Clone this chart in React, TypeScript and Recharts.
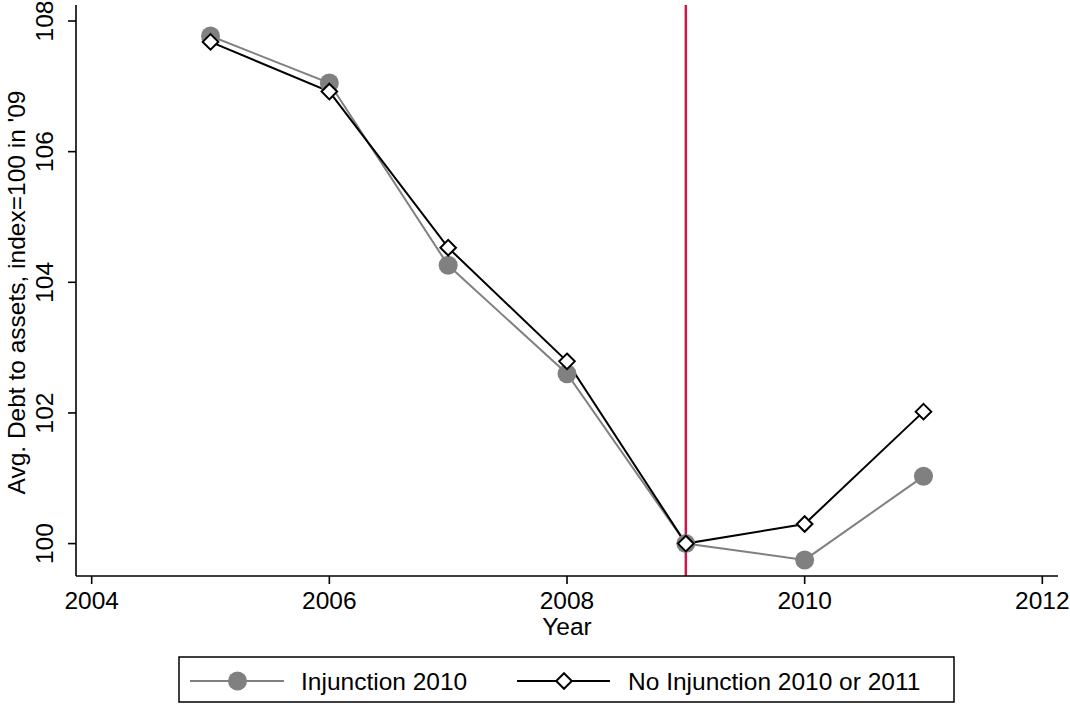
import React from "react";
import {
  LineChart,
  Line,
  XAxis,
  YAxis,
  ReferenceLine,
} from "recharts";

// index of avg. debt to assets, 2009 = 100
const years = [2005, 2006, 2007, 2008, 2009, 2010, 2011];
const injunction = [107.77, 107.05, 104.26, 102.6, 100, 99.75, 101.03];
const noInjunction = [107.68, 106.92, 104.53, 102.79, 100, 100.3, 102.02];

const seriesNames = ["Injunction 2010", "No Injunction 2010 or 2011"];
const xTicks = [2004, 2006, 2008, 2010, 2012];
const yTicks = [100, 102, 104, 106, 108];
const eventYear = 2009;

const data = years.map((year, i) => ({
  year,
  inj: injunction[i],
  noInj: noInjunction[i],
}));

const FONT = "'Liberation Sans', Arial, Helvetica, sans-serif";
const FS = 24.5;
const GRAY = "#808080";
const RED = "#c8194b";

const Diamond = (props: any) => {
  const { cx, cy, index } = props;
  const h = 7.8;
  return (
    <path
      key={`d-${index}`}
      d={`M${cx},${cy - h}L${cx + h},${cy}L${cx},${cy + h}L${cx - h},${cy}Z`}
      fill="#fff"
      stroke="#000"
      strokeWidth={2}
    />
  );
};

const YTick = (props: any) => {
  const { x, y, payload } = props;
  const bx = x - 13;
  return (
    <text
      x={bx}
      y={y}
      transform={`rotate(-90, ${bx}, ${y})`}
      textAnchor="middle"
      fontSize={FS}
      fontFamily={FONT}
      fill="#000"
    >
      {payload.value}
    </text>
  );
};

const YLabel = (props: any) => {
  const vb = props.viewBox || {};
  const cy = vb.y + vb.height / 2 + 2;
  const bx = 25;
  return (
    <text
      x={bx}
      y={cy}
      transform={`rotate(-90, ${bx}, ${cy})`}
      textAnchor="middle"
      fontSize={FS}
      fontFamily={FONT}
      fill="#000"
    >
      Avg. Debt to assets, index=100 in '09
    </text>
  );
};

const Legend = () => (
  <svg
    width={1070}
    height={704}
    style={{ position: "absolute", left: 0, top: 0, pointerEvents: "none" }}
  >
    <rect x={179} y={657} width={775} height={45} fill="none" stroke="#000" strokeWidth={1.5} />
    <line x1={190} x2={284} y1={681} y2={681} stroke={GRAY} strokeWidth={2} />
    <circle cx={237.5} cy={681} r={9.5} fill={GRAY} />
    <text x={301} y={689.5} fontSize={FS} fontFamily={FONT} fill="#000">
      {seriesNames[0]}
    </text>
    <line x1={517} x2={610} y1={681} y2={681} stroke="#000" strokeWidth={2} />
    <Diamond cx={564} cy={681} index={0} />
    <text x={628} y={689.5} fontSize={FS} fontFamily={FONT} fill="#000">
      {seriesNames[1]}
    </text>
  </svg>
);

export default function App() {
  const axisStyle = { stroke: "#000", strokeWidth: 1.6 };
  return (
    <div style={{ position: "absolute", left: 0, top: 0, width: 1070, height: 704, background: "#fff" }}>
      <LineChart
        width={1070}
        height={704}
        data={data}
        margin={{ top: 5, right: 12, left: 16, bottom: 58 }}
      >
        <XAxis
          dataKey="year"
          type="number"
          domain={[2003.868, 2012.132]}
          ticks={xTicks}
          interval={0}
          height={70}
          tickSize={8}
          tickMargin={8}
          axisLine={axisStyle}
          tickLine={axisStyle}
          tick={{ fill: "#000", fontSize: FS, fontFamily: FONT }}
          label={{
            value: "Year",
            position: "insideBottom",
            offset: 11,
            fill: "#000",
            fontSize: FS,
            fontFamily: FONT,
          }}
        />
        <XAxis
          xAxisId="top"
          orientation="top"
          dataKey="year"
          type="number"
          domain={[2003.868, 2012.132]}
          height={0}
          tick={false}
          tickLine={false}
          axisLine={axisStyle}
        />
        <YAxis
          type="number"
          domain={[99.504, 108.245]}
          ticks={yTicks}
          interval={0}
          width={60}
          tickSize={8}
          axisLine={axisStyle}
          tickLine={axisStyle}
          tick={<YTick />}
          label={<YLabel />}
        />
        <YAxis
          yAxisId="right"
          orientation="right"
          type="number"
          domain={[99.504, 108.245]}
          width={0}
          tick={false}
          tickLine={false}
          axisLine={axisStyle}
        />
        <ReferenceLine x={eventYear} stroke={RED} strokeWidth={2.5} />
        <Line
          dataKey="inj"
          name={seriesNames[0]}
          stroke={GRAY}
          strokeWidth={2}
          dot={{ r: 9.5, fill: GRAY, stroke: "none" }}
          activeDot={false}
          isAnimationActive={false}
        />
        <Line
          dataKey="noInj"
          name={seriesNames[1]}
          stroke="#000"
          strokeWidth={2}
          dot={(p: any) => <Diamond {...p} />}
          activeDot={false}
          isAnimationActive={false}
        />
      </LineChart>
      <Legend />
    </div>
  );
}
